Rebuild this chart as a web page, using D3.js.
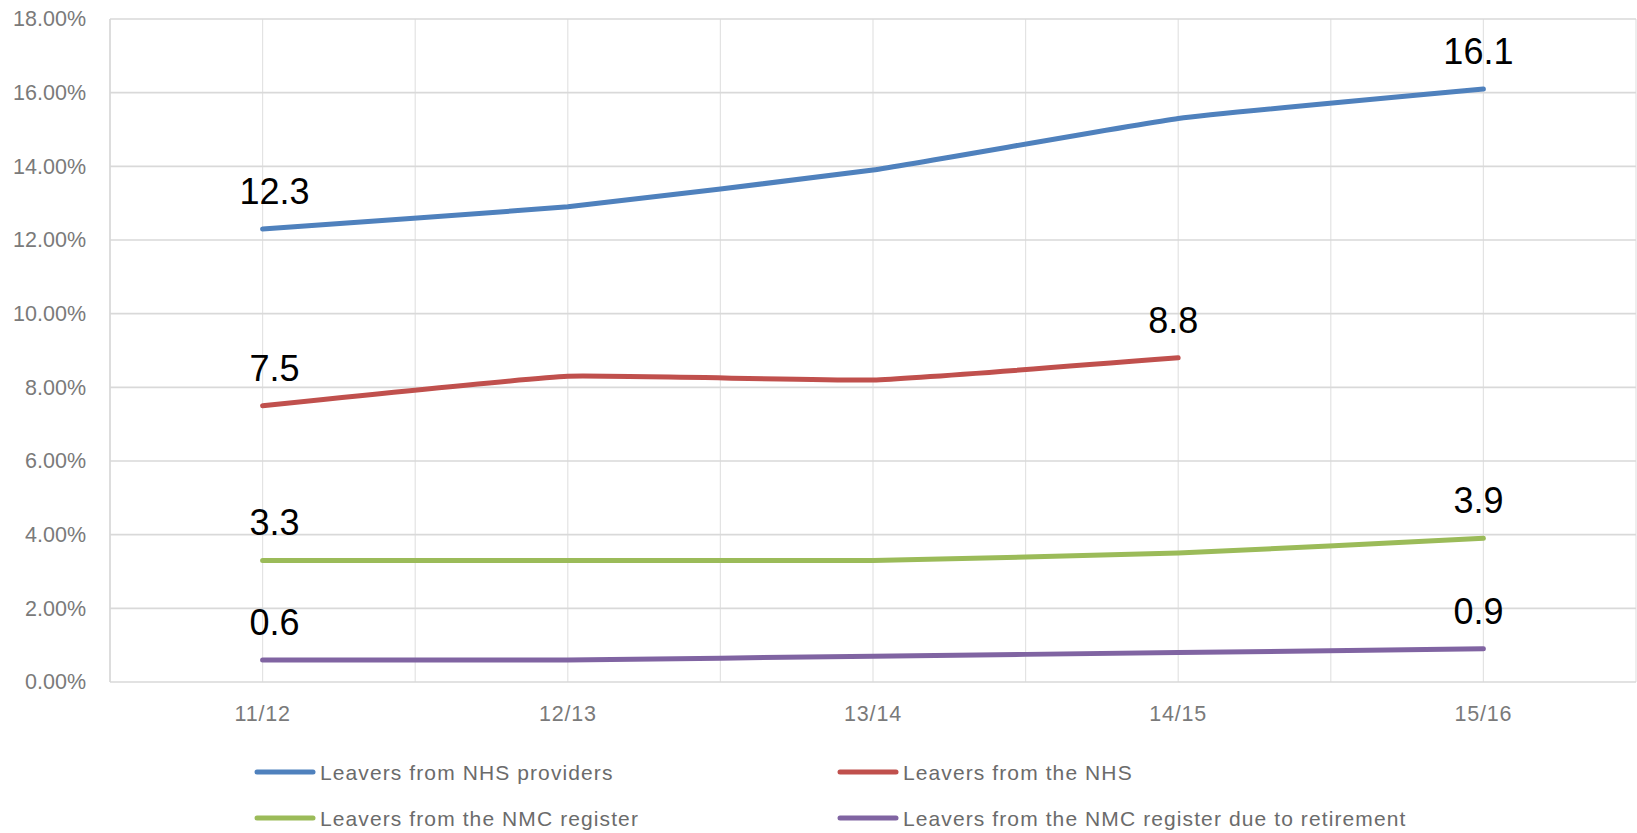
<!DOCTYPE html>
<html>
<head>
<meta charset="utf-8">
<script src="https://cdn.jsdelivr.net/npm/d3@7"></script>
<style>
  html, body { margin: 0; padding: 0; background: #fff; }
  svg { display: block; }
</style>
</head>
<body>
<svg id="chart" width="1637" height="833"></svg>
<script>
// Financial years on the category axis
const years = ["11/12", "12/13", "13/14", "14/15", "15/16"];

// Leaver rates (%) per series; null where no figure exists
const nhsProviders = [12.3, 12.9, 13.9, 15.3, 16.1];
const nhsLeavers   = [7.5, 8.3, 8.2, 8.8, null];
const nmcRegister  = [3.3, 3.3, 3.3, 3.5, 3.9];
const nmcRetire    = [0.6, 0.6, 0.7, 0.8, 0.9];

const seriesNames = [
  "Leavers from NHS providers",
  "Leavers from the NHS",
  "Leavers from the NMC register",
  "Leavers from the NMC register due to retirement"
];

// Y axis tick values (%)
const yTicks = [0, 2, 4, 6, 8, 10, 12, 14, 16, 18];

const series = [
  { name: seriesNames[0], values: nhsProviders, color: "#4F81BD" },
  { name: seriesNames[1], values: nhsLeavers,   color: "#C0504D" },
  { name: seriesNames[2], values: nmcRegister,  color: "#9BBB59" },
  { name: seriesNames[3], values: nmcRetire,    color: "#8064A2" }
];

const svg = d3.select("#chart");
const margin = { top: 19, right: 1, bottom: 151, left: 110 };
const W = 1637, H = 833;
const innerW = W - margin.left - margin.right;
const innerH = H - margin.top - margin.bottom;

const g = svg.append("g").attr("transform", `translate(${margin.left},${margin.top})`);

const x = d3.scaleBand().domain(years).range([0, innerW]).padding(0);
const xc = d => x(d) + x.bandwidth() / 2;
const y = d3.scaleLinear().domain([0, 18]).range([innerH, 0]);

// Vertical gridlines at category centres and band boundaries
const vLines = [];
years.forEach(c => { vLines.push(x(c)); vLines.push(xc(c)); });
vLines.push(innerW);
g.append("g").selectAll("line").data(vLines).join("line")
  .attr("x1", d => d).attr("x2", d => d)
  .attr("y1", 0).attr("y2", innerH)
  .attr("stroke", "#e3e3e3").attr("stroke-width", 1.2);

// Horizontal gridlines
g.append("g").selectAll("line").data(yTicks).join("line")
  .attr("x1", 0).attr("x2", innerW)
  .attr("y1", d => y(d)).attr("y2", d => y(d))
  .attr("stroke", "#d9d9d9").attr("stroke-width", 1.6);

// Left edge of plot
g.append("line").attr("x1", 0).attr("x2", 0).attr("y1", 0).attr("y2", innerH)
  .attr("stroke", "#d9d9d9").attr("stroke-width", 1.6);

// Y axis labels
const yAxis = d3.axisLeft(y).tickValues(yTicks).tickSize(0).tickPadding(24)
  .tickFormat(d => d3.format(".2f")(d) + "%");
const yg = g.append("g").call(yAxis);
yg.select(".domain").remove();
yg.selectAll("text")
  .attr("font-family", "'Liberation Sans', Arial, sans-serif")
  .attr("font-size", 21.5)
  .attr("fill", "#7a7a7a");

// X axis labels
const xAxis = d3.axisBottom(x).tickSize(0).tickPadding(24);
const xg = g.append("g").attr("transform", `translate(0,${innerH})`).call(xAxis);
xg.select(".domain").remove();
xg.selectAll("text")
  .attr("font-family", "'Liberation Sans', Arial, sans-serif")
  .attr("font-size", 21.5)
  .attr("letter-spacing", 0.8)
  .attr("fill", "#7a7a7a");

// Series lines, lightly smoothed
const line = d3.line()
  .defined(d => d.v != null)
  .x(d => xc(d.c))
  .y(d => y(d.v))
  .curve(d3.curveCardinal.tension(0.65));

series.forEach(s => {
  const pts = years.map((c, i) => ({ c, v: s.values[i], i }));
  g.append("path")
    .datum(pts)
    .attr("d", line)
    .attr("fill", "none")
    .attr("stroke", s.color)
    .attr("stroke-width", 5)
    .attr("stroke-linecap", "round")
    .attr("stroke-linejoin", "round");

  // Value labels at the first and last available points
  const defined = pts.filter(p => p.v != null);
  const ends = [defined[0], defined[defined.length - 1]];
  g.append("g").selectAll("text").data(ends).join("text")
    .attr("x", p => xc(p.c) + (p === ends[0] ? 12 : -5))
    .attr("y", p => y(p.v) - 25)
    .attr("text-anchor", "middle")
    .attr("font-family", "'Liberation Sans', Arial, sans-serif")
    .attr("font-size", 36)
    .attr("fill", "#000")
    .text(p => p.v.toFixed(1));
});

// Legend: two columns, two rows
const legendCols = [255, 838];
const legendRows = [772, 818];
const legend = svg.append("g");
series.forEach((s, i) => {
  const lx = legendCols[i % 2];
  const ly = legendRows[Math.floor(i / 2)];
  const item = legend.append("g").attr("transform", `translate(${lx},${ly})`);
  item.append("line")
    .attr("x1", 2).attr("x2", 58).attr("y1", 0).attr("y2", 0)
    .attr("stroke", s.color).attr("stroke-width", 5).attr("stroke-linecap", "round");
  item.append("text")
    .attr("x", 65).attr("y", 0).attr("dy", "0.36em")
    .attr("font-family", "'Liberation Sans', Arial, sans-serif")
    .attr("font-size", 21)
    .attr("letter-spacing", 1.1)
    .attr("fill", "#6b6b6b")
    .text(s.name);
});
</script>
</body>
</html>
